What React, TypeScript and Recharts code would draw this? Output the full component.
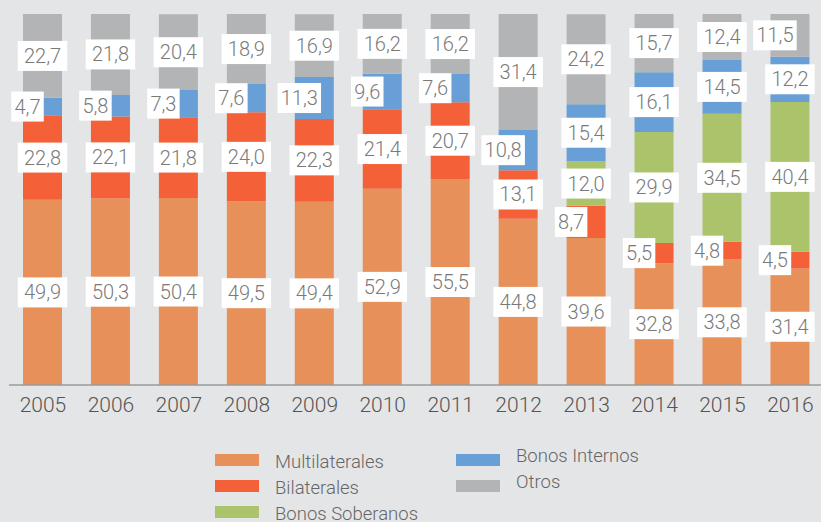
import { BarChart, Bar, XAxis, YAxis, LabelList } from 'recharts'

// Composición de la deuda (%) por año
const years = ['2005', '2006', '2007', '2008', '2009', '2010', '2011', '2012', '2013', '2014', '2015', '2016']
const multilaterales = [49.9, 50.3, 50.4, 49.5, 49.4, 52.9, 55.5, 44.8, 39.6, 32.8, 33.8, 31.4]
const bilaterales = [22.8, 22.1, 21.8, 24.0, 22.3, 21.4, 20.7, 13.1, 8.7, 5.5, 4.8, 4.5]
const bonosSoberanos = [0, 0, 0, 0, 0, 0, 0, 0, 12.0, 29.9, 34.5, 40.4]
const bonosInternos = [4.7, 5.8, 7.3, 7.6, 11.3, 9.6, 7.6, 10.8, 15.4, 16.1, 14.5, 12.2]
const otros = [22.7, 21.8, 20.4, 18.9, 16.9, 16.2, 16.2, 31.4, 24.2, 15.7, 12.4, 11.5]

const series = [
  { key: 'multilaterales', name: 'Multilaterales', color: '#E8905A' },
  { key: 'bilaterales', name: 'Bilaterales', color: '#F46138' },
  { key: 'bonosSoberanos', name: 'Bonos Soberanos', color: '#ABC46C' },
  { key: 'bonosInternos', name: 'Bonos Internos', color: '#679FD6' },
  { key: 'otros', name: 'Otros', color: '#B3B4B6' },
]

const data = years.map((year, i) => ({
  year,
  multilaterales: multilaterales[i],
  bilaterales: bilaterales[i],
  bonosSoberanos: bonosSoberanos[i],
  bonosInternos: bonosInternos[i],
  otros: otros[i],
}))

const FONT = 'Roboto, "Noto Sans", sans-serif'

// Etiqueta en caja blanca
const renderLabel = (props: any) => {
  const { x, y, width, height, value } = props
  if (!value) return null
  const v = Number(value)
  const text = v.toFixed(1).replace('.', ',')
  const small = v < 12
  const textW = (text.length - 1) * 11 + 4.5
  const boxW = textW + (small ? 6 : 12)
  const cx = x + width / 2 - (small ? 15 : 0)
  const cy = y + height / 2
  return (
    <g>
      <rect x={cx - boxW / 2} y={cy - 15} width={boxW} height={30} fill="#ffffff" />
      <text
        x={cx}
        y={cy}
        textAnchor="middle"
        dominantBaseline="central"
        fontSize={20}
        fontWeight={300}
        fontFamily={FONT}
        fill="#7a7a7a"
      >
        {text}
      </text>
    </g>
  )
}

// Leyenda en dos columnas
const legendCols = [215, 456]
const legendRows = [454, 480, 506]

function ChartLegend() {
  return (
    <>
      {series.map((s, i) => {
        const col = i < 3 ? 0 : 1
        const row = i < 3 ? i : i - 3
        const left = legendCols[col]
        const top = legendRows[row]
        const textCenter = top + (col === 0 ? 8 : 2)
        return (
          <div key={s.key}>
            <div style={{ position: 'absolute', left, top, width: 44, height: 12, background: s.color }} />
            <div
              style={{
                position: 'absolute',
                left: left + 60,
                top: textCenter - 11,
                height: 22,
                lineHeight: '22px',
                fontSize: 18.5,
                fontWeight: 300,
                fontFamily: FONT,
                color: '#666666',
                whiteSpace: 'nowrap',
              }}
            >
              {s.name}
            </div>
          </div>
        )
      })}
    </>
  )
}

export default function App() {
  return (
    <div
      style={{
        position: 'absolute',
        left: 0,
        top: 0,
        width: 821,
        height: 522,
        overflow: 'hidden',
        background: '#E4E5E7',
      }}
    >
      <BarChart
        width={840}
        height={522}
        data={data}
        margin={{ top: 14, right: 15.6, left: 9, bottom: 107 }}
        barSize={39}
      >
        <XAxis
          dataKey="year"
          height={30}
          tickLine={false}
          tickMargin={6}
          axisLine={{ stroke: '#9a9a9a', strokeWidth: 1.5 }}
          tick={{ fontSize: 21, fontWeight: 300, fontFamily: FONT, fill: '#555555' }}
          interval={0}
        />
        <YAxis hide domain={[0, 100]} allowDataOverflow />
        {series.map((s) => (
          <Bar key={s.key} dataKey={s.key} name={s.name} stackId="a" fill={s.color} isAnimationActive={false}>
            <LabelList dataKey={s.key} content={renderLabel} />
          </Bar>
        ))}
      </BarChart>
      <ChartLegend />
    </div>
  )
}
